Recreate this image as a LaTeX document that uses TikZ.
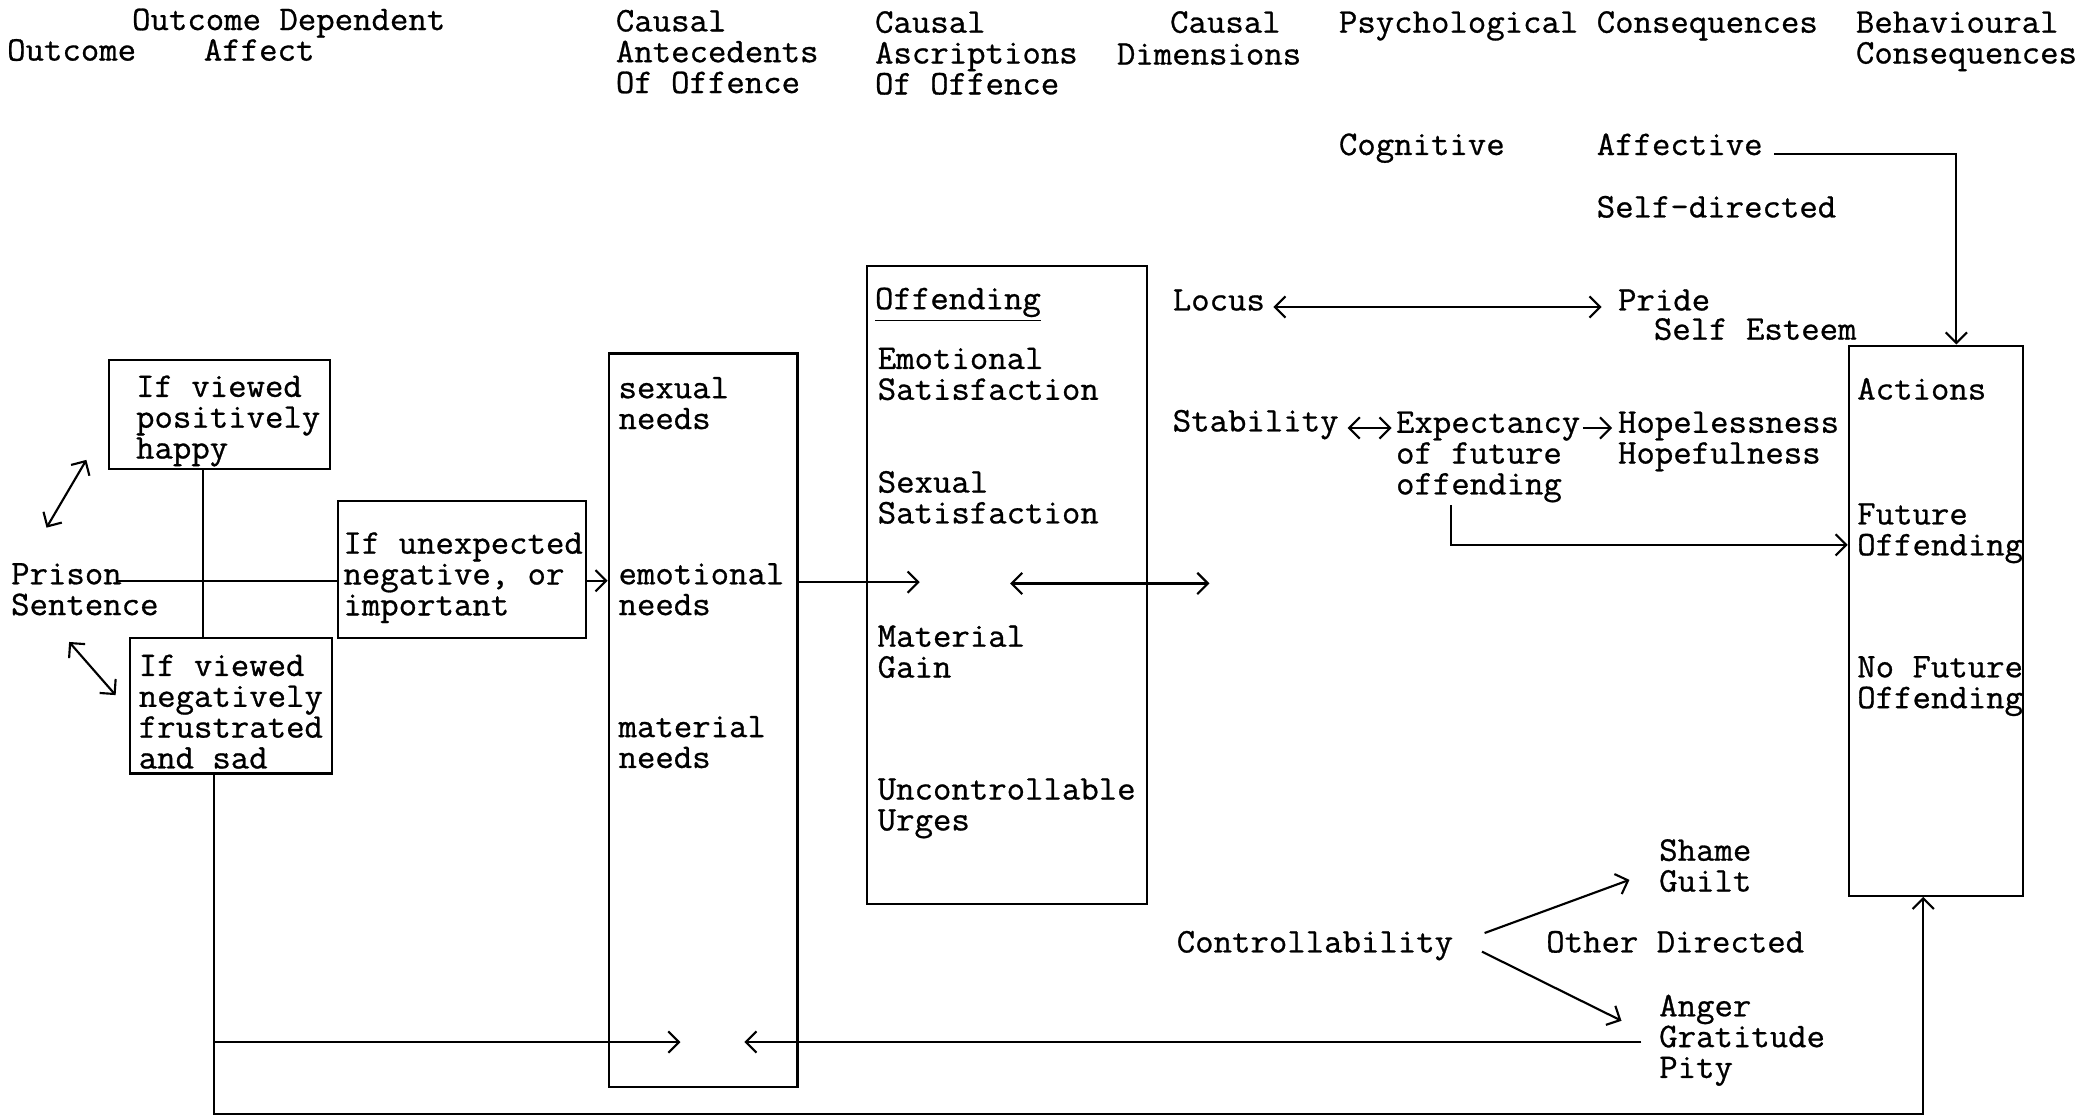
\documentclass[tikz,border=0pt]{standalone}
\usepackage{fontspec}
\setmonofont{Latin Modern Mono}[FakeBold=0.8,FakeStretch=1.035]
\usetikzlibrary{arrows.meta,calc,fit}
\newcommand\tfont{\fontsize{13.0}{11.6}\selectfont\ttfamily\lineskiplimit=-30pt\relax}
\newcommand\ts{\vrule width 0pt height 8.1pt depth 0pt\relax}
\begin{document}
\begin{tikzpicture}[x=0.5pt,y=-0.5pt,
  every node/.style={inner sep=0pt},
  txt/.style={anchor=north west, align=left, font=\tfont},
  fitbox/.style={draw, line width=0.8pt, inner sep=0pt},
  ln/.style={line width=0.8pt},
  arr/.style={ln, -{Straight Barb[length=4pt,width=8pt]}},
  darr/.style={ln, {Straight Barb[length=4pt,width=8pt]}-{Straight Barb[length=4pt,width=8pt]}}]
\useasboundingbox (0,0) rectangle (1568,841);

% headers
\node[txt] (h1) at (99,6) {\ts Outcome Dependent};
\node[txt] (h2) at (5,29) {\ts Outcome};
\node[txt] (h3) at (153,29) {\ts Affect};
\node[txt] (h4) at (463,7) {\ts Causal\\Antecedents\\Of Offence};
\node[txt] (h5) at (658,8) {\ts Causal\\Ascriptions\\Of Offence};
\node[txt] (h6) at (880,8) {\ts Causal};
\node[txt] (h7) at (840,32) {\ts Dimensions};
\node[txt] (h8) at (1007,8) {\ts Psychological Consequences};
\node[txt] (h9) at (1396,8) {\ts Behavioural\\Consequences};
\node[txt] (cog) at (1007,100) {\ts Cognitive};
\node[txt] (aff) at (1201,100) {\ts Affective};
\node[txt] (selfd) at (1201,147) {\ts Self-directed};

% boxes
\node[fitbox, fit={(82,271)(248,353)}] (bpos) {};
\node[fitbox, fit={(254,377)(441,480)}] (bunx) {};
\node[fitbox, fit={(98,480)(250,582)}] (bneg) {};
\node[fitbox, fit={(458,266)(600,818)}] (bant) {};
\node[fitbox, fit={(652,200)(863,680)}] (basc) {};
\node[fitbox, fit={(1391,260)(1522,674)}] (bact) {};

% box texts
\node[txt] (tpos) at (102,282) {\ts If viewed\\positively\\happy};
\node[txt] (tunx) at (258,400) {\ts If unexpected\\negative, or\\important};
\node[txt] (tneg) at (104,492) {\ts If viewed\\negatively\\frustrated\\and sad};
\node[txt] (prison) at (8,423) {\ts Prison\\Sentence};

\node[txt] (sex) at (465,283) {\ts sexual\\needs};
\node[txt] (emo) at (465,423) {\ts emotional\\needs};
\node[txt] (mat) at (465,538) {\ts material\\needs};

\node[txt] (off) at (658,216) {\ts\underline{Offending}};
\node[txt] (esat) at (660,261) {\ts Emotional\\Satisfaction};
\node[txt] (ssat) at (660,354) {\ts Sexual\\Satisfaction};
\node[txt] (mgain) at (660,470) {\ts Material\\Gain};
\node[txt] (urge) at (660,585) {\ts Uncontrollable\\Urges};

\node[txt] (locus) at (882,217) {\ts Locus};
\node[txt] (pride) at (1217,217) {\ts Pride};
\node[txt] (esteem) at (1244,239) {\ts Self Esteem};
\node[txt] (stab) at (882,308) {\ts Stability};
\node[txt] (expt) at (1050,309) {\ts Expectancy\\of future\\offending};
\node[txt] (hope) at (1217,309) {\ts Hopelessness\\Hopefulness};

\node[txt] (act) at (1397,284) {\ts Actions};
\node[txt] (fut) at (1397,378) {\ts Future\\Offending};
\node[txt] (nofut) at (1397,493) {\ts No Future\\Offending};

\node[txt] (ctrl) at (885,700) {\ts Controllability};
\node[txt] (shame) at (1248,631) {\ts Shame\\Guilt};
\node[txt] (other) at (1163,700) {\ts Other Directed};
\node[txt] (anger) at (1248,748) {\ts Anger\\Gratitude\\Pity};

% connectors
\coordinate (pe) at (89,437);
\draw[ln] (pe) -- (pe -| bunx.west);
\draw[ln] (bpos.south -| 153,0) -- (bneg.north -| 153,0);
\draw[arr] (bunx.east |- pe) -- (bant.west |- pe);
\coordinate (m1) at (692,438);
\draw[arr] (bant.east |- m1) -- (m1);
\coordinate (m2) at (760,439);
\coordinate (m3) at (910,439);
\draw[darr] (m2) -- (m3);

\draw[darr] (958,231) -- (1205,231);
\draw[darr] (1014,322) -- (1047,322);
\draw[arr] (1191,322) -- (1213,322);
\coordinate (e1) at (1092,380);
\draw[arr] (e1) |- (bact.west |- 0,410);

\coordinate (a1) at (1335,116);
\draw[arr] (a1) -| (bact.north -| 1472,0);

\draw[arr] (1117,702) -- (1226,662);
\draw[arr] (1115,716) -- (1220,768);

\coordinate (g1) at (1235,784);
\coordinate (g2) at (560,784);
\draw[arr] (g1) -- (g2);

\coordinate (n1) at (161,838);
\coordinate (n2) at (161,784);
\coordinate (n3) at (512,784);
\draw[arr] (bneg.south -| n1) -- (n1) -| (bact.south -| 1447,0);
\draw[arr] (n2) -- (n3);

\draw[darr] (35,397) -- (65,346);
\draw[darr] (52,483) -- (87,523);
\end{tikzpicture}
\end{document}
